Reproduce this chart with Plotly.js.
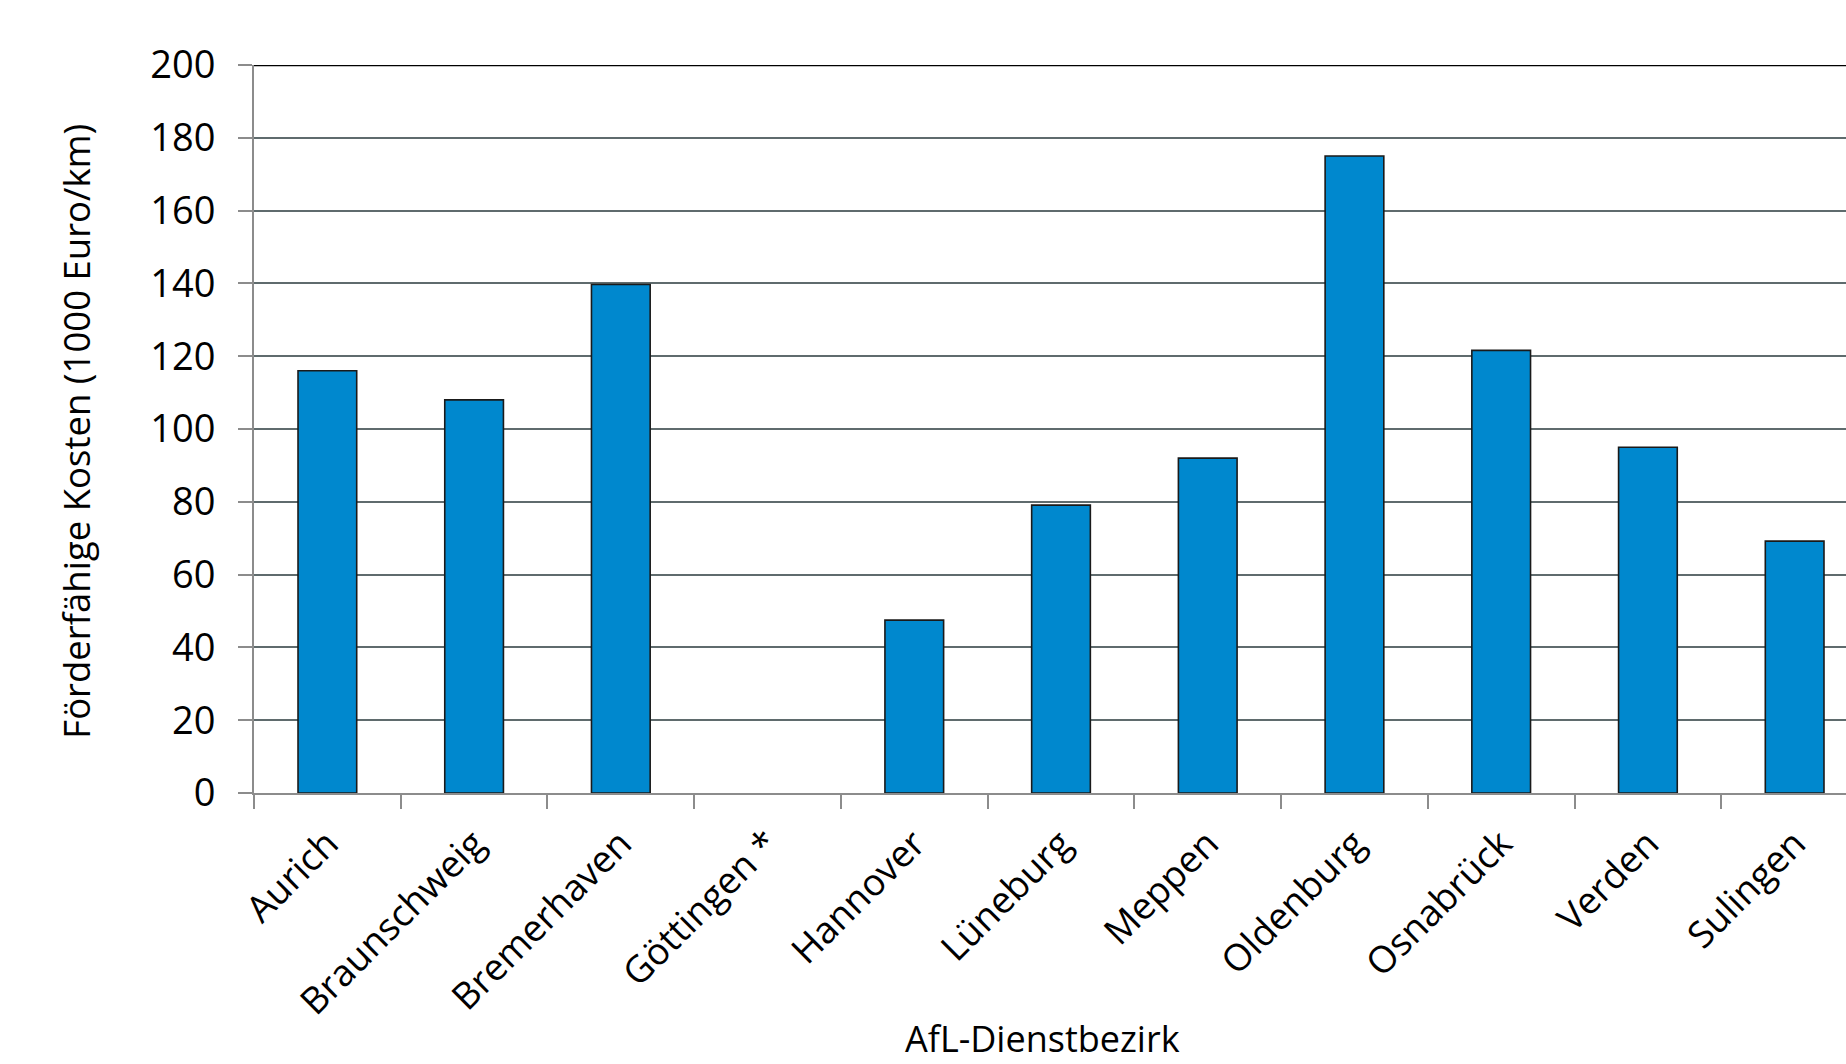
<!DOCTYPE html>
<html>
<head>
<meta charset="utf-8">
<script src="https://cdn.plot.ly/plotly-3.0.1.min.js"></script>
<style>
  html, body { margin: 0; padding: 0; background: #fff; overflow: hidden; }
  #chart { width: 1846px; height: 1064px; }
</style>
</head>
<body>
<div id="chart"></div>
<script>
const categories = ["Aurich", "Braunschweig", "Bremerhaven", "Göttingen *", "Hannover", "Lüneburg", "Meppen", "Oldenburg", "Osnabrück", "Verden", "Sulingen"];
const values = [116, 108, 139.7, null, 47.5, 79.1, 92, 175, 121.6, 95, 69.2];
const yTicks = [0, 20, 40, 60, 80, 100, 120, 140, 160, 180, 200];
const yTitle = "Förderfähige Kosten (1000 Euro/km)";
const xTitle = "AfL-Dienstbezirk";

const font = "Open Sans, Noto Sans, sans-serif";

const trace = {
  type: "bar",
  x: categories,
  y: values,
  marker: { color: "#0088CE", line: { color: "#1a1a1a", width: 1.6 } },
  hoverinfo: "x+y"
};

const layout = {
  width: 1846,
  height: 1064,
  margin: { l: 254, r: 0, t: 65, b: 271, pad: 0 },
  paper_bgcolor: "#ffffff",
  plot_bgcolor: "#ffffff",
  showlegend: false,
  bargap: 0.6,
  font: { family: font, color: "#000000" },
  xaxis: {
    type: "category",
    range: [-0.5, 10.35],
    tickangle: -45,
    tickfont: { family: font, size: 37, color: "#000" },
    ticklabelstandoff: 12,
    ticks: "outside",
    tickson: "boundaries",
    ticklen: 14,
    tickwidth: 2,
    tickcolor: "#8c8c8c",
    showline: true,
    linecolor: "#8c8c8c",
    linewidth: 2,
    showgrid: false,
    zeroline: false,
    fixedrange: true
  },
  yaxis: {
    range: [0, 200],
    tickvals: yTicks,
    ticktext: yTicks.map(String),
    tickfont: { family: font, size: 38, color: "#000" },
    ticklabelstandoff: 15,
    ticks: "outside",
    ticklen: 14,
    tickwidth: 2,
    tickcolor: "#8c8c8c",
    showline: true,
    linecolor: "#8c8c8c",
    linewidth: 2,
    showgrid: true,
    gridcolor: "#5f6b6d",
    gridwidth: 2,
    zeroline: false,
    fixedrange: true
  },
  shapes: [{
    type: "line", xref: "paper", x0: 0, x1: 1, yref: "y", y0: 200, y1: 200,
    line: { color: "#000000", width: 2.5 }
  }],
  annotations: [
    {
      text: yTitle, textangle: -90, showarrow: false,
      xref: "paper", yref: "paper", x: -0.1115, y: 0.497,
      xanchor: "center", yanchor: "middle",
      font: { family: font, size: 36.5, color: "#000" }
    },
    {
      text: xTitle, showarrow: false,
      xref: "paper", yref: "paper", x: 0.495, y: -0.337,
      xanchor: "center", yanchor: "middle",
      font: { family: font, size: 36, color: "#000" }
    }
  ]
};

Plotly.newPlot("chart", [trace], layout, { displayModeBar: false, staticPlot: false });
</script>
</body>
</html>
